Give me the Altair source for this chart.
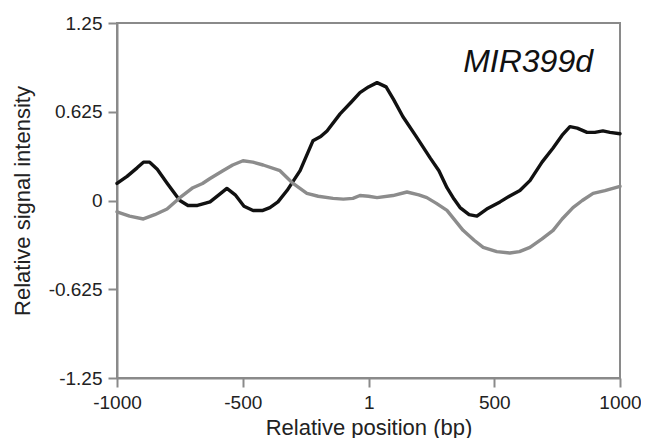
import altair as alt
import pandas as pd

# Black series (position bp, relative signal)
black_x = [-1000, -960, -920, -895, -870, -840, -800, -750, -718, -680, -630, -595, -563,
           -530, -495, -459, -420, -392, -360, -324, -272, -221, -190, -165, -113, -70, -34,
           0, 34, 70, 100, 137, 190, 245, 280, 312, 340, 364, 400, 431, 470, 523, 560,
           602, 642, 690, 734, 770, 801, 830, 869, 900, 932, 960, 1000]
black_y = [0.12, 0.17, 0.23, 0.27, 0.27, 0.22, 0.12, 0.0, -0.035, -0.035, -0.01, 0.04, 0.085,
           0.04, -0.04, -0.07, -0.07, -0.05, -0.01, 0.07, 0.21, 0.42, 0.45, 0.49, 0.61, 0.69, 0.76,
           0.80, 0.83, 0.80, 0.71, 0.59, 0.45, 0.30, 0.21, 0.09, 0.01, -0.05, -0.10, -0.11, -0.06, -0.01, 0.03,
           0.07, 0.14, 0.27, 0.37, 0.46, 0.52, 0.51, 0.48, 0.48, 0.49, 0.48, 0.47]

# Gray series
gray_x = [-1000, -950, -895, -850, -801, -750, -698, -660, -630, -579, -540, -499, -460, -419,
          -352, -300, -245, -200, -141, -100, -62, -34, 0, 34, 97, 153, 200, 232, 270, 312,
          376, 420, 456, 510, 562, 600, 642, 690, 734, 770, 813, 850, 893, 940, 1000]
gray_y = [-0.08, -0.11, -0.13, -0.10, -0.06, 0.02, 0.09, 0.12, 0.155, 0.21, 0.25, 0.28, 0.27, 0.25,
          0.21, 0.12, 0.05, 0.03, 0.015, 0.01, 0.015, 0.035, 0.03, 0.02, 0.035, 0.06, 0.04, 0.02, -0.02, -0.07,
          -0.21, -0.28, -0.33, -0.36, -0.37, -0.36, -0.33, -0.27, -0.21, -0.13, -0.05, 0.0, 0.05, 0.07, 0.10]

x_ticks = [-1000, -500, 1, 500, 1000]
y_ticks = [1.25, 0.625, 0, -0.625, -1.25]
label_text = "MIR399d"

df = pd.concat([
    pd.DataFrame({"pos": black_x, "val": black_y, "series": "black", "order": range(len(black_x))}),
    pd.DataFrame({"pos": gray_x, "val": gray_y, "series": "gray", "order": range(len(gray_x))}),
])

FONT = "Liberation Sans"
AXIS_GRAY = "#8a8a8a"

x_enc = alt.X("pos:Q", scale=alt.Scale(domain=[-1000, 1000], nice=False, zero=False),
              axis=alt.Axis(values=x_ticks, title="Relative position (bp)", format="d",
                            labelExpr="datum.value + ''"))
y_enc = alt.Y("val:Q", scale=alt.Scale(domain=[-1.25, 1.25], nice=False, zero=False),
              axis=alt.Axis(values=y_ticks, title="Relative signal intensity",
                            labelExpr="datum.value + ''"))

lines = alt.Chart(df).mark_line(strokeWidth=3.4, strokeJoin="round", strokeCap="round").encode(
    x=x_enc,
    y=y_enc,
    detail="series:N",
    order="order:Q",
    color=alt.Color("series:N", scale=alt.Scale(domain=["black", "gray"], range=["#111111", "#8c8c8c"]),
                    legend=None),
)

label = alt.Chart(pd.DataFrame({"t": [label_text]})).mark_text(
    font=FONT, fontSize=32, fontStyle="italic", align="right", baseline="alphabetic", color="#111111"
).encode(text="t:N", x=alt.value(476), y=alt.value(49))

chart = (lines + label).properties(
    width=503, height=355,
    autosize=alt.AutoSizeParams(type="none"),
    padding={"left": 109, "top": 15, "right": 21, "bottom": 60},
).configure_view(
    stroke=AXIS_GRAY, strokeWidth=2
).configure_axis(
    grid=False,
    domainColor=AXIS_GRAY, domainWidth=2,
    tickColor=AXIS_GRAY, tickWidth=2, tickSize=9,
    labelFont=FONT, labelFontSize=19, labelColor="#222222", labelPadding=4,
    titleFont=FONT, titleFontSize=22, titleFontWeight="normal", titleColor="#222222",
).configure_axisX(titlePadding=5, labelPadding=6, labelFlush=False).configure_axisY(titlePadding=14, labelPadding=6, labelFlush=False)

chart.save("out.html", embed_options={"renderer": "svg", "actions": False})
